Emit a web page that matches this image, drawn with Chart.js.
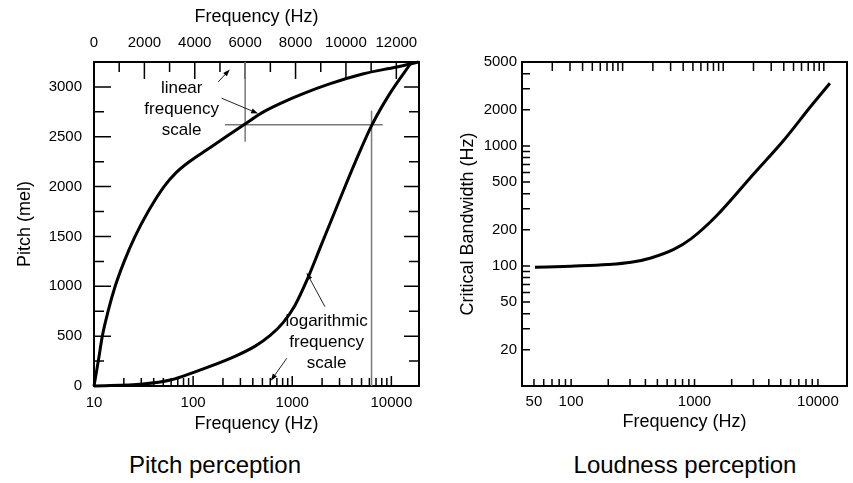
<!DOCTYPE html>
<html lang="en">
<head>
<meta charset="UTF-8">
<title>Pitch and loudness perception</title>
<script src="https://cdn.jsdelivr.net/npm/chart.js"></script>
<style>
  body { margin: 0; background: #fff; font-family: 'Liberation Sans', Arial, sans-serif; }
  #wrap { position: relative; width: 853px; height: 483px; overflow: hidden; }
  .panel { position: absolute; top: 0; }
  .caption { position: absolute; top: 451px; font-size: 24px; line-height: 28px; color: #000;
             transform: translateX(-50%); white-space: nowrap; }
</style>
</head>
<body>
<div id="wrap">
  <div class="panel" style="left:0;width:430px;height:440px"><canvas id="pitchChart" width="430" height="440"></canvas></div>
  <div class="panel" style="left:440px;width:413px;height:440px"><canvas id="bandChart" width="413" height="440"></canvas></div>
  <div class="caption" style="left:215px">Pitch perception</div>
  <div class="caption" style="left:685px">Loudness perception</div>
</div>

<script>
// pitch (mel) vs frequency on the linear top axis
const linFreq = [0, 170, 330, 560, 840, 1200, 1630, 2150, 2780, 3260, 3810, 4480, 5240, 5950, 6660, 7450, 8280, 9350, 10660, 12010, 12880];
const linMel  = [0, 250, 500, 750, 1000, 1250, 1500, 1750, 2000, 2140, 2255, 2370, 2500, 2620, 2740, 2840, 2930, 3030, 3130, 3200, 3250];

// same pitch scale vs frequency on the log bottom axis
const logFreq = [10, 31, 59, 103, 254, 423, 599, 809, 1068, 1410, 1905, 2636, 3561, 4811, 6353, 9640, 16040];
const logMel  = [0, 20, 60, 140, 290, 400, 507, 636, 811, 1064, 1383, 1728, 2046, 2353, 2617, 2933, 3250];

// critical bandwidth (Hz) vs centre frequency
const cbFreq  = [51, 100, 198, 306, 443, 685, 935, 1488, 3037, 5309, 8730, 12500];
const cbWidth = [97.5, 99.6, 102.6, 107.2, 116.6, 138, 168, 258, 589, 1120, 2127, 3322];

// tick labels
const pitchTicks = [0, 500, 1000, 1500, 2000, 2500, 3000];
const linHzTicks = [0, 2000, 4000, 6000, 8000, 10000, 12000];
const logHzTicks = [10, 100, 1000, 10000];
const cbHzTicks  = [50, 100, 1000, 10000];
const cbBwTicks  = [20, 50, 100, 200, 500, 1000, 2000, 5000];

// guide lines: 6000 Hz on the linear scale -> 2620 mel -> ~6300 Hz on the log scale
const guideLinHz = 6000, guideMel = 2620, guideLogHz = 6310;

const FONT = "'Liberation Sans', Arial, sans-serif";
Chart.defaults.font.family = FONT;
Chart.defaults.color = '#000';

const pts = (xs, ys) => xs.map((x, i) => ({ x, y: ys[i] }));
const fixTicks = vals => s => { s.ticks = vals.map(value => ({ value })); };
const label = v => String(v);

function logTicks(from, to, mults) {
  const out = [];
  for (let p = 1; p <= 100000; p *= 10) {
    for (const m of mults) {
      const v = m * p;
      if (v >= from && v <= to) out.push(v);
    }
  }
  return out;
}
const isPow10 = v => Math.abs(Math.log10(v) - Math.round(Math.log10(v))) < 1e-9;
const steps = (from, to, step) => { const out = []; for (let v = from; v <= to; v += step) out.push(v); return out; };

// frame + inward tick marks
function framePlugin(marks) {
  return {
    id: 'frameTicks',
    beforeDatasetsDraw(chart) {
      const { ctx, chartArea: a } = chart;
      ctx.save();
      ctx.strokeStyle = '#000';
      ctx.lineWidth = 1.5;
      ctx.beginPath();
      marks.forEach(m => {
        const s = chart.scales[m.scale];
        m.values.forEach(v => {
          const p = s.getPixelForValue(v);
          const len = m.len(v);
          if (m.side === 'left') { ctx.moveTo(a.left, p); ctx.lineTo(a.left + len, p); }
          if (m.side === 'right') { ctx.moveTo(a.right, p); ctx.lineTo(a.right - len, p); }
          if (m.side === 'top') { ctx.moveTo(p, a.top); ctx.lineTo(p, a.top + len); }
          if (m.side === 'bottom') { ctx.moveTo(p, a.bottom); ctx.lineTo(p, a.bottom - len); }
        });
      });
      ctx.stroke();
      ctx.lineWidth = 2;
      ctx.strokeRect(a.left, a.top, a.right - a.left, a.bottom - a.top);
      ctx.restore();
    }
  };
}

function arrow(ctx, x0, y0, x1, y1) {
  const ang = Math.atan2(y1 - y0, x1 - x0);
  const c = Math.cos(ang), s = Math.sin(ang);
  ctx.beginPath();
  ctx.moveTo(x0, y0);
  ctx.lineTo(x1 - 5 * c, y1 - 5 * s);
  ctx.stroke();
  ctx.beginPath();
  ctx.moveTo(x1, y1);
  ctx.lineTo(x1 - 7 * c + 2.5 * s, y1 - 7 * s - 2.5 * c);
  ctx.lineTo(x1 - 7 * c - 2.5 * s, y1 - 7 * s + 2.5 * c);
  ctx.closePath();
  ctx.fill();
}

// text notes with arrows, placed in data units
const notes = [
  { xScale: 'x2', x: 3480, y: 2780, lines: ['linear', 'frequency', 'scale'],
    arrows: [[4930, 3050, 5390, 3175], [5065, 2887, 6514, 2733]] },
  { xScale: 'x', x: 2220, y: 434, lines: ['logarithmic', 'frequency', 'scale'],
    arrows: [[2138, 795, 1395, 1136], [881, 278, 608, 53]] }
];

const notePlugin = {
  id: 'notes',
  afterDatasetsDraw(chart) {
    const { ctx } = chart;
    const ys = chart.scales.y;
    ctx.save();
    ctx.font = '17px ' + FONT;
    ctx.fillStyle = '#000';
    ctx.strokeStyle = '#222';
    ctx.lineWidth = 1;
    ctx.textAlign = 'center';
    ctx.textBaseline = 'middle';
    notes.forEach(n => {
      const xs = chart.scales[n.xScale];
      const cx = xs.getPixelForValue(n.x), cy = ys.getPixelForValue(n.y);
      n.lines.forEach((t, i) => ctx.fillText(t, cx, cy + (i - 1) * 21));
      n.arrows.forEach(([fx, fy, tx, ty]) => {
        arrow(ctx, xs.getPixelForValue(fx), ys.getPixelForValue(fy),
                   xs.getPixelForValue(tx), ys.getPixelForValue(ty));
      });
    });
    ctx.restore();
  }
};

const curve = { borderColor: '#000', borderWidth: 3, pointRadius: 0, cubicInterpolationMode: 'monotone', clip: false };
const guide = { borderColor: '#7a7a7a', borderWidth: 1.5, pointRadius: 0, tension: 0, clip: false };
const noGrid = { display: false, drawTicks: false };
const tickFont = { size: 15 };
const titleFont = { size: 18 };

new Chart(document.getElementById('pitchChart'), {
  type: 'line',
  data: {
    datasets: [
      Object.assign({ data: pts(linFreq, linMel), xAxisID: 'x2', yAxisID: 'y' }, curve),
      Object.assign({ data: pts(logFreq, logMel), xAxisID: 'x', yAxisID: 'y' }, curve),
      Object.assign({ data: [{ x: guideLinHz, y: 3250 }, { x: guideLinHz, y: 2450 }], xAxisID: 'x2', yAxisID: 'y' }, guide),
      Object.assign({ data: [{ x: 5200, y: guideMel }, { x: 11460, y: guideMel }], xAxisID: 'x2', yAxisID: 'y' }, guide),
      Object.assign({ data: [{ x: guideLogHz, y: 2760 }, { x: guideLogHz, y: 0 }], xAxisID: 'x', yAxisID: 'y' }, guide)
    ]
  },
  options: {
    responsive: false, animation: false, devicePixelRatio: 1,
    layout: { padding: 0 },
    plugins: { legend: { display: false }, tooltip: { enabled: false } },
    scales: {
      x: {
        type: 'logarithmic', position: 'bottom', min: 10, max: 19000, bounds: 'data',
        grid: noGrid, border: { display: false },
        afterBuildTicks: fixTicks(logHzTicks), afterFit: s => { s.height = 54; },
        ticks: { callback: label, autoSkip: false, maxRotation: 0, padding: 8, font: tickFont },
        title: { display: true, text: 'Frequency (Hz)', font: titleFont, padding: 5 }
      },
      x2: {
        type: 'linear', position: 'top', min: 0, max: 12900, bounds: 'data',
        grid: noGrid, border: { display: false },
        afterBuildTicks: fixTicks(linHzTicks), afterFit: s => { s.height = 62; },
        ticks: { callback: label, autoSkip: false, maxRotation: 0, padding: 10, font: tickFont },
        title: { display: true, text: 'Frequency (Hz)', font: titleFont, padding: 6 }
      },
      y: {
        type: 'linear', position: 'left', min: 0, max: 3250, bounds: 'data',
        grid: noGrid, border: { display: false },
        afterBuildTicks: fixTicks(pitchTicks), afterFit: s => { s.width = 94; },
        ticks: { callback: label, autoSkip: false, padding: 12, font: tickFont },
        title: { display: true, text: 'Pitch (mel)', font: titleFont, padding: 14 }
      },
      y2: {
        type: 'linear', position: 'right', min: 0, max: 3250,
        grid: noGrid, border: { display: false },
        ticks: { display: false }, afterFit: s => { s.width = 11; }
      }
    }
  },
  plugins: [
    framePlugin([
      { scale: 'y', side: 'left', values: steps(250, 3000, 250), len: v => v % 500 ? 10 : 17 },
      { scale: 'y', side: 'right', values: steps(250, 3000, 250), len: v => v % 500 ? 10 : 15 },
      { scale: 'x2', side: 'top', values: steps(1000, 12000, 1000), len: v => v % 2000 ? 10 : 17 },
      { scale: 'x', side: 'bottom', values: logTicks(20, 10000, [1, 2, 3, 4, 5, 6, 7, 8, 9]), len: v => isPow10(v) ? 10 : 8 }
    ]),
    notePlugin
  ]
});

new Chart(document.getElementById('bandChart'), {
  type: 'line',
  data: {
    datasets: [
      Object.assign({ data: pts(cbFreq, cbWidth), xAxisID: 'x', yAxisID: 'y' }, curve)
    ]
  },
  options: {
    responsive: false, animation: false, devicePixelRatio: 1,
    layout: { padding: { right: 6 } },
    plugins: { legend: { display: false }, tooltip: { enabled: false } },
    scales: {
      x: {
        type: 'logarithmic', position: 'bottom', min: 40, max: 17200, bounds: 'data',
        grid: noGrid, border: { display: false },
        afterBuildTicks: fixTicks(cbHzTicks), afterFit: s => { s.height = 54; },
        ticks: { callback: label, autoSkip: false, maxRotation: 0, padding: 7, font: tickFont },
        title: { display: true, text: 'Frequency (Hz)', font: titleFont, padding: 7.5 }
      },
      x2: {
        type: 'logarithmic', position: 'top', min: 1, max: 1700, bounds: 'data',
        grid: noGrid, border: { display: false },
        ticks: { display: false }, afterFit: s => { s.height = 62; }
      },
      y: {
        type: 'logarithmic', position: 'left', min: 10, max: 5000, bounds: 'data',
        grid: noGrid, border: { display: false },
        afterBuildTicks: fixTicks(cbBwTicks), afterFit: s => { s.width = 82; },
        ticks: { callback: label, autoSkip: false, padding: 5, font: tickFont },
        title: { display: true, text: 'Critical Bandwidth (Hz)', font: titleFont, padding: 17 }
      }
    }
  },
  plugins: [
    framePlugin([
      { scale: 'y', side: 'left', values: logTicks(20, 4000, [1, 2, 3, 4, 5, 6, 7, 8, 9]), len: () => 8 },
      { scale: 'x', side: 'bottom', values: logTicks(50, 10000, [1, 2, 3, 4, 5, 6, 7, 8, 9]), len: () => 7 },
      { scale: 'x2', side: 'top', values: logTicks(2, 1000, [2, 3, 4, 5, 6, 7, 8, 9, 10]), len: () => 9 }
    ])
  ]
});
</script>
</body>
</html>
